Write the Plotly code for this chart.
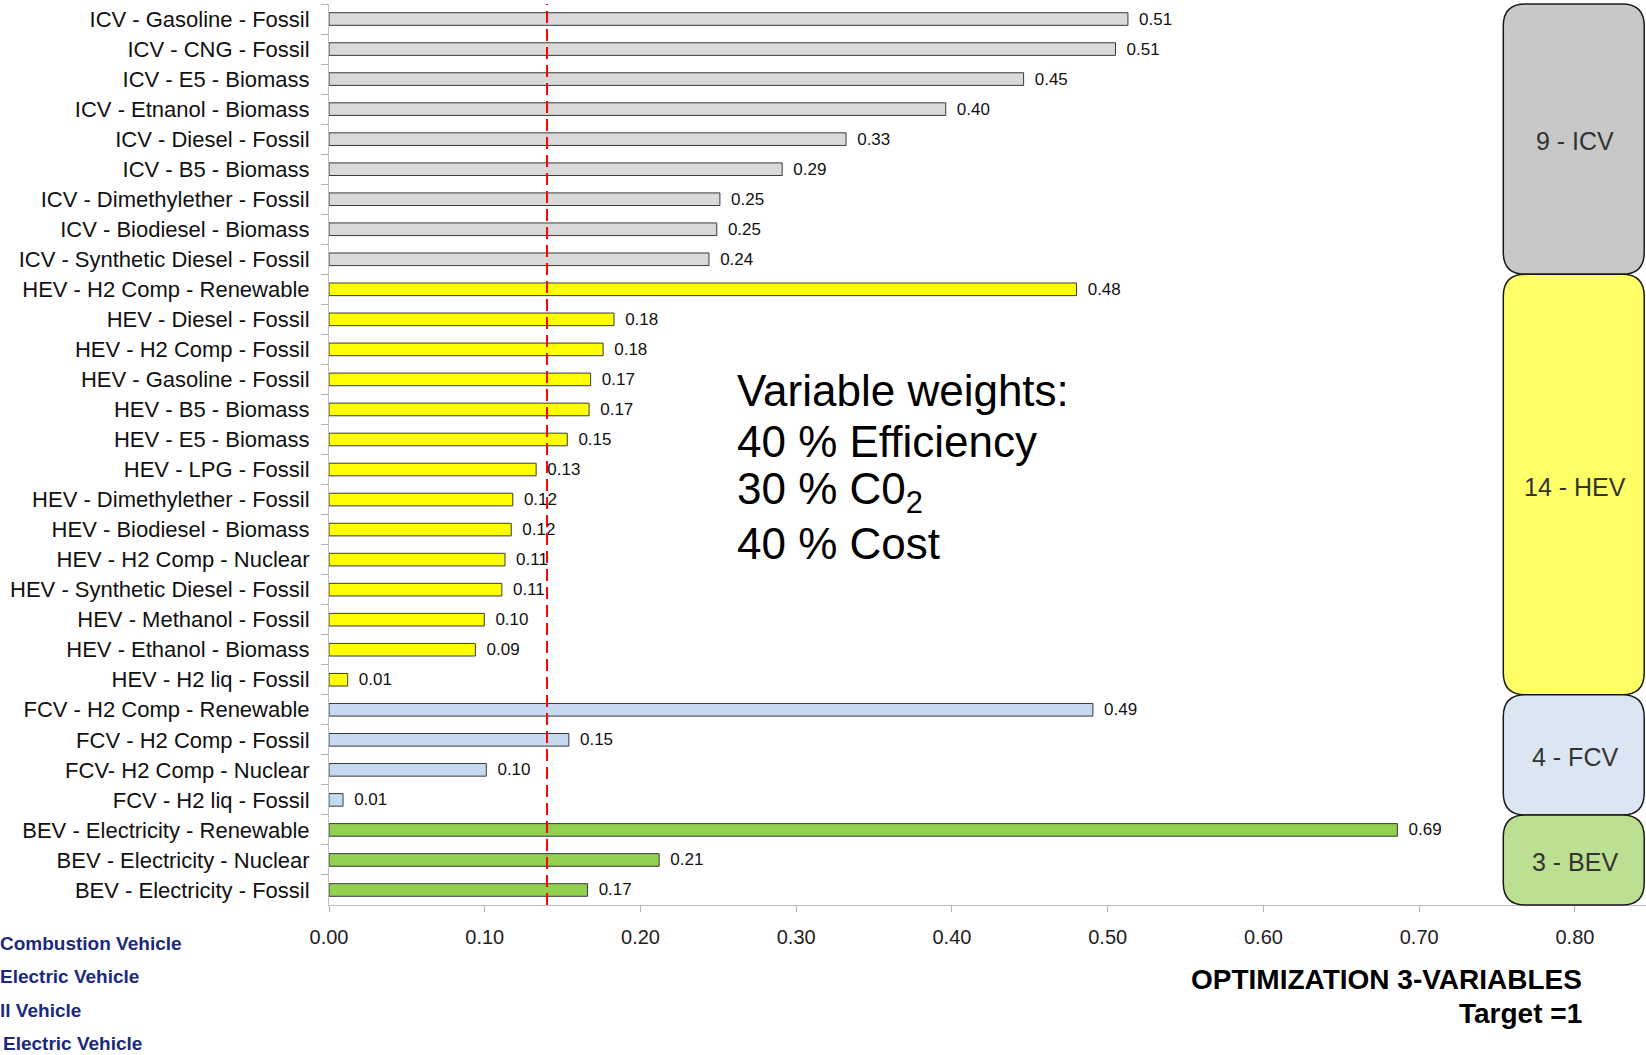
import plotly.graph_objects as go

# ---- data -------------------------------------------------------------
ICV_LABELS = [
    "ICV - Gasoline - Fossil", "ICV - CNG - Fossil", "ICV - E5 - Biomass",
    "ICV - Etnanol - Biomass", "ICV - Diesel - Fossil", "ICV - B5 - Biomass",
    "ICV - Dimethylether - Fossil", "ICV - Biodiesel - Biomass",
    "ICV - Synthetic Diesel - Fossil",
]
ICV_VALUES = [0.513, 0.505, 0.446, 0.396, 0.332, 0.291, 0.251, 0.249, 0.244]

HEV_LABELS = [
    "HEV - H2 Comp - Renewable", "HEV - Diesel - Fossil", "HEV - H2 Comp - Fossil",
    "HEV - Gasoline - Fossil", "HEV - B5 - Biomass", "HEV - E5 - Biomass",
    "HEV - LPG - Fossil", "HEV - Dimethylether - Fossil", "HEV - Biodiesel - Biomass",
    "HEV - H2 Comp - Nuclear", "HEV - Synthetic Diesel - Fossil",
    "HEV - Methanol - Fossil", "HEV - Ethanol - Biomass", "HEV - H2 liq - Fossil",
]
HEV_VALUES = [0.480, 0.183, 0.176, 0.168, 0.167, 0.153, 0.133, 0.118, 0.117,
              0.113, 0.111, 0.0997, 0.094, 0.012]

FCV_LABELS = [
    "FCV - H2 Comp - Renewable", "FCV - H2 Comp - Fossil",
    "FCV- H2 Comp - Nuclear", "FCV - H2 liq - Fossil",
]
FCV_VALUES = [0.4905, 0.154, 0.101, 0.009]

BEV_LABELS = [
    "BEV - Electricity - Renewable", "BEV - Electricity - Nuclear",
    "BEV - Electricity - Fossil",
]
BEV_VALUES = [0.686, 0.212, 0.166]

THRESHOLD = 0.14

WEIGHT_LINES = ["Variable weights:", "40 % Efficiency", "30 % C0<sub>2</sub>", "40 % Cost"]
# vehicle type captions, as far as they fit on the left edge of the page
VEHICLE_CAPTIONS = ["Combustion Vehicle", "Electric Vehicle", "ll Vehicle", "Electric Vehicle"]

# ---- styling ----------------------------------------------------------
BAR_COLORS = {"ICV": "#d9d9d9", "HEV": "#ffff00", "FCV": "#c6d9f1", "BEV": "#92d050"}
BOX_COLORS = {"ICV": "#c8c8c8", "HEV": "#ffff66", "FCV": "#dce6f2", "BEV": "#bddf92"}
FONT = "Liberation Sans, Arial, sans-serif"

W, H = 1646, 1055
M_L, M_R, M_T, M_B = 329, 0, 4, 150
PLOT_W = W - M_L - M_R
PLOT_H = H - M_T - M_B
PX_PER_UNIT = 1557.4
X_MAX = PLOT_W / PX_PER_UNIT


def paper_x(px):
    return (px - M_L) / PLOT_W


def paper_y(py):
    return 1 - (py - M_T) / PLOT_H


groups = [
    ("ICV", ICV_LABELS, ICV_VALUES),
    ("HEV", HEV_LABELS, HEV_VALUES),
    ("FCV", FCV_LABELS, FCV_VALUES),
    ("BEV", BEV_LABELS, BEV_VALUES),
]

labels, values, colors = [], [], []
for name, labs, vals in groups:
    labels += labs
    values += vals
    colors += [BAR_COLORS[name]] * len(labs)

n_rows = len(labels)

fig = go.Figure()
fig.add_trace(go.Bar(
    y=labels, x=values, orientation="h",
    marker=dict(color=colors, line=dict(color="#3a3a3a", width=1)),
    width=0.42,
    texttemplate="\u00a0\u2009%{x:.2f}", textposition="outside", constraintext="none",
    textfont=dict(family=FONT, size=17, color="#111111"),
    cliponaxis=False, hoverinfo="skip",
))

shapes = []
annotations = []

# threshold line
shapes.append(dict(type="line", xref="x", yref="paper", x0=THRESHOLD, x1=THRESHOLD,
                   y0=0, y1=1, line=dict(color="#ff0000", width=2, dash="12px,6px"),
                   layer="above"))

# rounded group boxes on the right
box_x0, box_x1 = 0.754, 0.8445
rx = 22 / PX_PER_UNIT
ry = 22 / PLOT_H
row = 0
for name, labs, vals in groups:
    top = 1 - row / n_rows
    bot = 1 - (row + len(labs)) / n_rows
    path = (
        f"M {box_x0 + rx},{top} L {box_x1 - rx},{top} Q {box_x1},{top} {box_x1},{top - ry} "
        f"L {box_x1},{bot + ry} Q {box_x1},{bot} {box_x1 - rx},{bot} "
        f"L {box_x0 + rx},{bot} Q {box_x0},{bot} {box_x0},{bot + ry} "
        f"L {box_x0},{top - ry} Q {box_x0},{top} {box_x0 + rx},{top} Z"
    )
    shapes.append(dict(type="path", xref="x", yref="paper", path=path,
                       fillcolor=BOX_COLORS[name], line=dict(color="#1a1a1a", width=1.5),
                       layer="above"))
    annotations.append(dict(x=0.80, xref="x", y=(top + bot) / 2, yref="paper",
                            xanchor="center", yanchor="middle", yshift=-2,
                            text=f"{len(labs)} - {name}", showarrow=False,
                            font=dict(family=FONT, size=25, color="#333333")))
    row += len(labs)

# weights note
for i, line in enumerate(WEIGHT_LINES):
    annotations.append(dict(x=paper_x(735), xref="paper", y=paper_y(390 + i * 51), yref="paper",
                            xanchor="left", yanchor="middle", text=line, showarrow=False,
                            font=dict(family=FONT, size=44, color="#000000")))

# vehicle type captions at the lower left
for i, (txt, left_px) in enumerate(zip(VEHICLE_CAPTIONS, [-2, -2, -2, 1])):
    annotations.append(dict(x=paper_x(left_px), xref="paper", y=paper_y(943 + i * 33.5),
                            yref="paper", xanchor="left", yanchor="middle",
                            text=f"<b>{txt}</b>", showarrow=False,
                            font=dict(family=FONT, size=19, color="#1b2a7a")))

# chart title
for txt, py in [("OPTIMIZATION 3-VARIABLES", 979), ("Target =1", 1013)]:
    annotations.append(dict(x=paper_x(1584), xref="paper", y=paper_y(py), yref="paper",
                            xanchor="right", yanchor="middle", text=f"<b>{txt}</b>",
                            showarrow=False,
                            font=dict(family=FONT, size=28, color="#000000")))

fig.update_layout(
    width=W, height=H,
    margin=dict(l=M_L, r=M_R, t=M_T, b=M_B, pad=0),
    plot_bgcolor="white", paper_bgcolor="white",
    showlegend=False, bargap=0.58,
    shapes=shapes, annotations=annotations,
    font=dict(family=FONT, color="#111111"),
)
fig.update_xaxes(
    range=[0, X_MAX], tick0=0, dtick=0.1, tickformat=".2f",
    showgrid=False, zeroline=False,
    showline=True, linecolor="#c0c0c0", linewidth=1,
    ticks="outside", ticklen=6, tickcolor="#b0b0b0",
    ticklabelstandoff=8,
    tickfont=dict(family=FONT, size=20, color="#222222"),
)
fig.update_yaxes(
    type="category", categoryorder="array", categoryarray=labels,
    autorange="reversed", showgrid=False,
    showline=True, linecolor="#c0c0c0", linewidth=1,
    ticks="outside", ticklen=7, tickcolor="#b0b0b0", tickson="boundaries",
    ticklabelstandoff=14,
    tickfont=dict(family=FONT, size=22, color="#111111"),
)

fig.write_html("out.html")
